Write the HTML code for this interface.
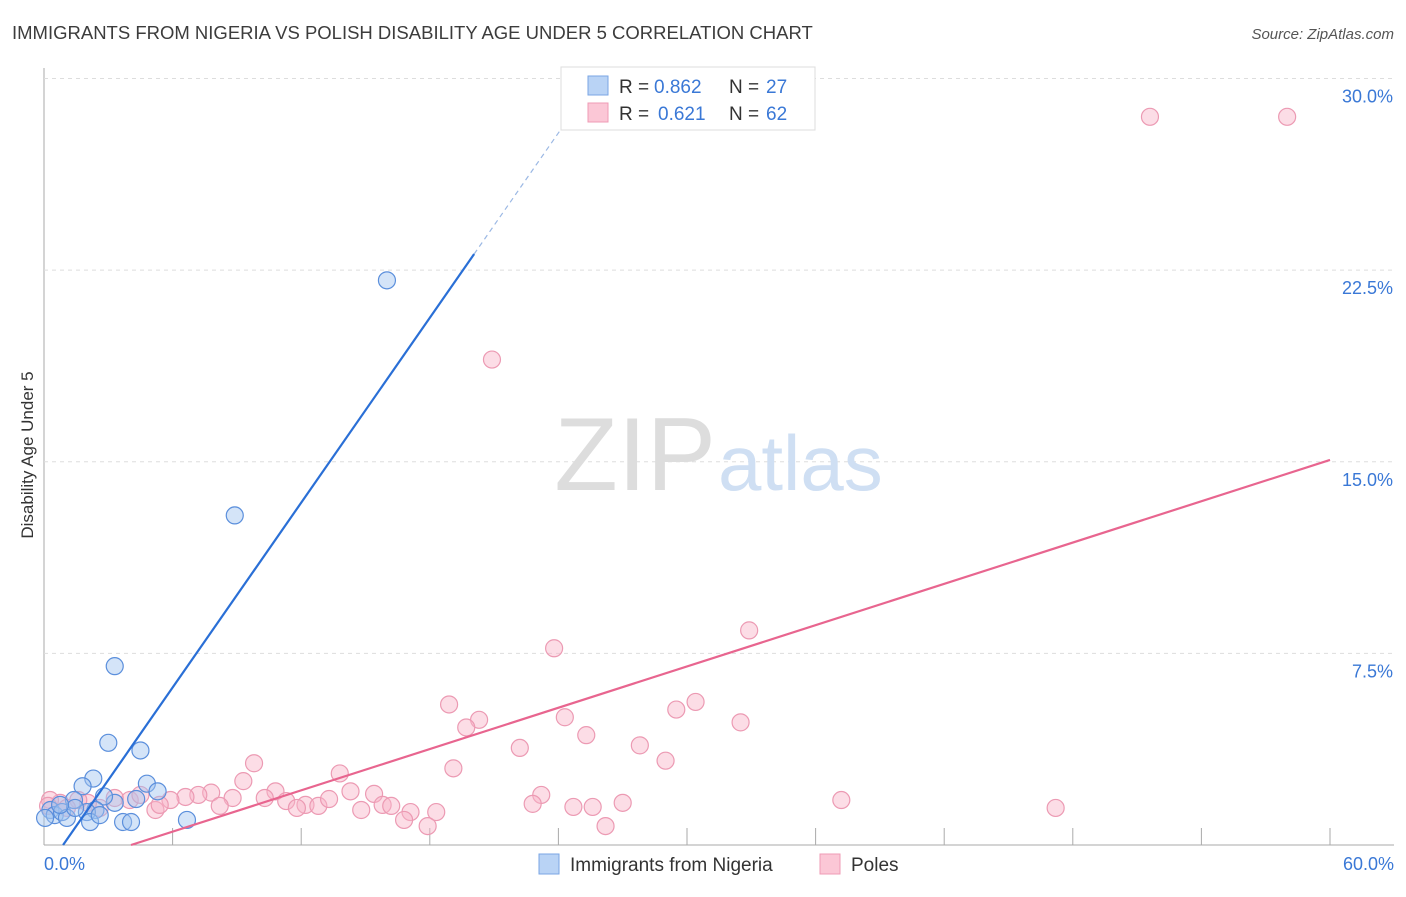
<!DOCTYPE html>
<html><head><meta charset="utf-8"><style>
body{margin:0;background:#fff;font-family:"Liberation Sans",sans-serif}
svg text{font-family:"Liberation Sans",sans-serif}
</style></head><body>
<svg id="chart" width="1406" height="892" xmlns="http://www.w3.org/2000/svg">
<text x="12" y="39" font-size="18.5" fill="#3c3c3c">IMMIGRANTS FROM NIGERIA VS POLISH DISABILITY AGE UNDER 5 CORRELATION CHART</text>
<text x="1394" y="39" font-size="15" fill="#555" text-anchor="end" font-style="italic">Source: ZipAtlas.com</text>
<text transform="translate(33,455) rotate(-90)" font-size="17" fill="#333" text-anchor="middle">Disability Age Under 5</text>
<g id="grid"></g>
<text x="716" y="490" font-size="104" text-anchor="end" fill="#ddd" font-family="Liberation Serif">ZIP</text>
<text x="718" y="490" font-size="78" fill="#cfdff3">atlas</text>
<g id="marks"></g>
<g>
<rect x="561" y="67" width="254" height="63" fill="#fff" stroke="#ddd"/>
<rect x="588" y="76" width="20" height="19" fill="#b9d3f5" stroke="#7aa6e4"/>
<rect x="588" y="103" width="20" height="19" fill="#fbc7d6" stroke="#ef9bb5"/>
<text x="619" y="93" font-size="19" fill="#333">R =</text>
<text x="654" y="93" font-size="19" fill="#3a78d6">0.862</text>
<text x="729" y="93" font-size="19" fill="#333">N =</text>
<text x="766" y="93" font-size="19" fill="#3a78d6">27</text>
<text x="619" y="120" font-size="19" fill="#333">R =</text>
<text x="658" y="120" font-size="19" fill="#3a78d6">0.621</text>
<text x="729" y="120" font-size="19" fill="#333">N =</text>
<text x="766" y="120" font-size="19" fill="#3a78d6">62</text>
</g>
<g>
<rect x="539" y="854" width="20" height="20" fill="#b9d3f5" stroke="#7aa6e4"/>
<text x="570" y="871" font-size="19" fill="#333">Immigrants from Nigeria</text>
<rect x="820" y="854" width="20" height="20" fill="#fbc7d6" stroke="#ef9bb5"/>
<text x="851" y="871" font-size="19" fill="#333">Poles</text>
</g>
</svg>
<script>
const xTicks=[0,6,12,18,24,30,36,42,48,54,60];
const yTicks=[7.5,15,22.5,30];
const yTickLabels=["7.5%","15.0%","22.5%","30.0%"];
const xLabels=["0.0%","60.0%"];
const nigeriaX=[16.0,8.9,3.3,3.0,4.5,2.3,1.8,4.8,5.3,4.3,3.3,2.8,1.4,2.4,2.0,0.3,0.5,0.84,1.07,2.15,3.69,4.06,6.67,0.05,1.45,0.75,2.6];
const nigeriaY=[22.1,12.9,7.0,4.0,3.7,2.6,2.3,2.4,2.1,1.8,1.65,1.9,1.76,1.37,1.29,1.37,1.17,1.29,1.06,0.9,0.9,0.9,0.98,1.06,1.45,1.57,1.17];
const polesX=[51.6,58.0,20.9,32.9,23.8,30.4,29.5,18.9,20.3,24.3,19.7,32.5,25.3,22.2,27.8,29.0,9.8,19.1,13.8,9.3,10.8,14.3,15.4,23.2,7.8,7.2,6.6,5.9,8.8,10.3,11.3,12.2,12.8,13.3,11.8,15.8,16.2,17.1,18.3,16.8,17.9,14.8,22.8,24.7,25.6,27.0,37.2,47.2,26.2,5.2,4.0,3.3,2.6,2.05,1.6,0.75,0.28,0.19,4.5,5.4,8.2,1.07];
const polesY=[28.5,28.5,19.0,8.4,7.7,5.6,5.3,5.5,4.9,5.0,4.6,4.8,4.3,3.8,3.9,3.3,3.2,3.0,2.8,2.5,2.1,2.1,2.0,1.96,2.05,1.96,1.88,1.76,1.84,1.84,1.72,1.57,1.53,1.8,1.45,1.57,1.53,1.29,1.29,0.98,0.74,1.37,1.61,1.49,1.49,1.65,1.76,1.45,0.74,1.37,1.76,1.84,1.45,1.65,1.76,1.65,1.76,1.53,1.96,1.57,1.53,1.45];
</script>
<script>
const svgNS="http://www.w3.org/2000/svg";
const X0=44,X1=1330,Y0=845,YS=25.55;
const xs=v=>X0+v*(X1-X0)/60, ys=v=>Y0-v*YS;
const grid=document.getElementById('grid'), marks=document.getElementById('marks');
function mk(p,tag,a){const e=document.createElementNS(svgNS,tag);for(const k in a)e.setAttribute(k,a[k]);p.appendChild(e);return e;}
let ax=mk(grid,'line',{x1:X0,y1:68,x2:X0,y2:Y0,stroke:'#aaa'});


let bx=mk(grid,'line',{x1:X0,y1:Y0,x2:1394,y2:Y0,stroke:'#aaa'});


yTicks.forEach((t,i)=>{
 const g=mk(grid,'line',{x1:X0,y1:ys(t),x2:1394,y2:ys(t),stroke:'#ddd','stroke-dasharray':'4,4'});
 
 
 const l=mk(grid,'text',{x:1393,y:ys(t)+24,'font-size':18,fill:'#3a78d6','text-anchor':'end'});l.textContent=yTickLabels[i];
 
 
});
xTicks.forEach(t=>{if(t===0)return;
 const g=mk(grid,'line',{x1:xs(t),y1:Y0-17,x2:xs(t),y2:Y0,stroke:'#aaa'});
 
 
});
[[0,'start',44],[60,'end',1394]].forEach((d,i)=>{
 const l=mk(grid,'text',{x:d[2],y:870,'font-size':18,fill:'#3a78d6','text-anchor':d[1]});l.textContent=xLabels[i];
 
 
});
polesX.forEach((v,i)=>{
 const c=mk(marks,'circle',{cx:xs(v),cy:ys(polesY[i]),r:8.5,fill:'rgba(248,180,200,0.45)',stroke:'#ec9ab3','stroke-width':1.2});
 
 
});
nigeriaX.forEach((v,i)=>{
 const c=mk(marks,'circle',{cx:xs(v),cy:ys(nigeriaY[i]),r:8.5,fill:'rgba(160,195,240,0.45)',stroke:'#5b8fdc','stroke-width':1.2});
 
 
});
const bl=[0.89,1.206], pl=[4.06,0.2694];
let l1=mk(marks,'line',{x1:xs(bl[0]),y1:ys(0),x2:xs(20.07),y2:ys((20.07-bl[0])*bl[1]),stroke:'#2a6fd6','stroke-width':2.2});


let l2=mk(marks,'line',{x1:xs(20.07),y1:ys((20.07-bl[0])*bl[1]),x2:xs(24.5),y2:ys((24.5-bl[0])*bl[1]),stroke:'#9bb8e4','stroke-width':1.2,'stroke-dasharray':'5,4'});


let l3=mk(marks,'line',{x1:xs(pl[0]),y1:ys(0),x2:xs(60),y2:ys((60-pl[0])*pl[1]),stroke:'#e8658f','stroke-width':2.2});


</script>
</body></html>
